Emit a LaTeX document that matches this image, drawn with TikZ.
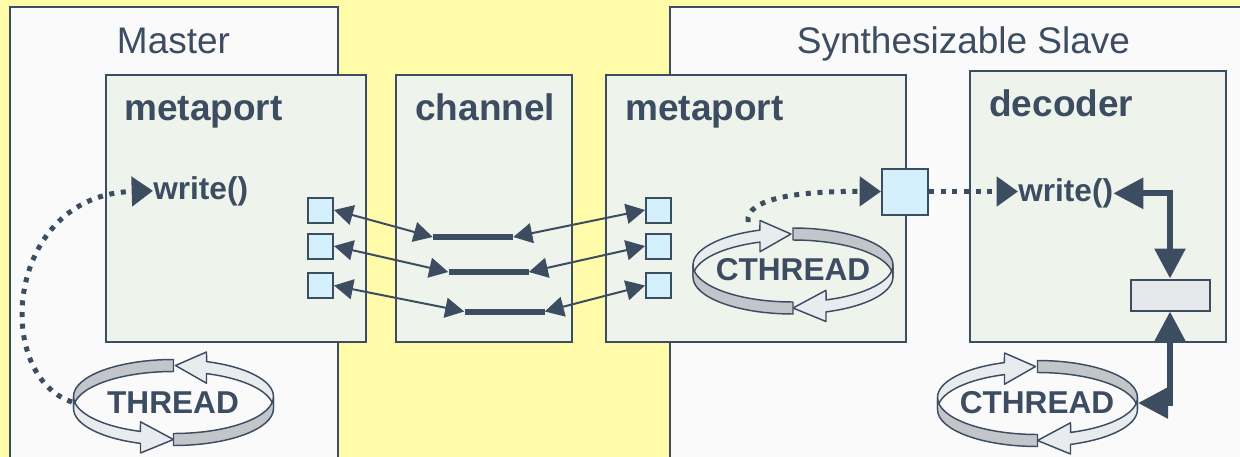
\documentclass[tikz,border=0pt]{standalone}
\usepackage{fontspec}
\setmainfont{Liberation Sans}
\usetikzlibrary{arrows.meta,fit}

\definecolor{ink}{HTML}{3D4D61}
\definecolor{paper}{HTML}{FFFBA8}
\definecolor{hostbg}{HTML}{FAFAFA}
\definecolor{modbg}{HTML}{EEF3EC}
\definecolor{portblue}{HTML}{D4F0FC}
\definecolor{regbg}{HTML}{E5E9EC}
\definecolor{ringgray}{HTML}{C2C6CA}
\definecolor{ringlight}{HTML}{E8ECEF}

\newcommand{\bigtext}{\fontsize{27.75pt}{32pt}\selectfont}
\newcommand{\midtext}{\fontsize{23.7pt}{28pt}\selectfont}

\tikzset{
  hostbox/.style={draw=ink, line width=1.5pt, fill=hostbg, inner sep=0pt},
  modbox/.style={draw=ink, line width=1.5pt, fill=modbg, inner sep=0pt},
  hosttitle/.style={text=ink, inner sep=0pt, font=\bigtext, anchor=base},
  modtitle/.style={text=ink, inner sep=0pt, font=\bigtext\bfseries, anchor=base west},
  calltext/.style={text=ink, inner sep=0pt, font=\midtext\bfseries},
  port/.style={draw=ink, line width=1.5pt, fill=portblue, minimum size=18.75pt, inner sep=0pt},
  wire/.style={fill=ink, minimum width=60pt, minimum height=4.5pt, inner sep=0pt},
  regbox/.style={draw=ink, line width=1.5pt, fill=regbg, minimum width=59.25pt, minimum height=23.25pt, inner sep=0pt},
  link/.style={draw=ink, line width=1.5pt,
    {Triangle[length=14.25pt,width=15pt]}-{Triangle[length=14.25pt,width=15pt]}},
  calltrace/.style={draw=ink, line width=3.75pt, dash pattern=on 3.75pt off 5pt,
    -{Triangle[length=16pt,width=21.75pt]}},
  bus/.style={draw=ink, line width=4.5pt,
    {Triangle[length=22.5pt,width=22.5pt]}-{Triangle[length=22.5pt,width=22.5pt]}},
  bandback/.style={draw=ink, line width=1.1pt, fill=ringgray, line join=round},
  bandfront/.style={draw=ink, line width=1.1pt, fill=ringlight, line join=round},
  % a rotating ribbon: back half first, then the front half
  pics/ring/.style={code={
    \path[bandback] (-100,-6) arc[start angle=180,end angle=270,x radius=100,y radius=37]
       -- (0,-31) arc[start angle=270,end angle=180,x radius=100,y radius=37] -- cycle;
    \path[bandfront] (100,-6) arc[start angle=360,end angle=289.3,x radius=100,y radius=37]
       -- (33,-50.5) -- (2,-37) -- (33,-19.3) -- (33,-28.9)
       arc[start angle=289.3,end angle=360,x radius=100,y radius=37] -- cycle;
    \path[bandfront] (-100,-6) arc[start angle=180,end angle=109.3,x radius=100,y radius=37]
       -- (-33,19.3) -- (0,37) -- (-33,50.5) -- (-33,40.9)
       arc[start angle=109.3,end angle=180,x radius=100,y radius=37] -- cycle;
    \path[bandback] (0,31) arc[start angle=90,end angle=0,x radius=100,y radius=37]
       -- (100,6) arc[start angle=0,end angle=90,x radius=100,y radius=37] -- cycle;
  }}
}

\begin{document}
\begin{tikzpicture}[x=0.75pt,y=-0.75pt]
\path[use as bounding box] (0,0) rectangle (1240,457);
\clip (0,0) rectangle (1240,457);
\fill[paper] (0,0) rectangle (1240,457);

% hosts and modules
\node[hostbox, fit={(10,7) (338,475)}] (master) {};
\node[hostbox, fit={(670,7) (1255,475)}] (slave) {};
\node[modbox, fit={(106,75) (366,342)}] (mpM) {};
\node[modbox, fit={(396,75) (572,342)}] (chan) {};
\node[modbox, fit={(606,75) (906,342)}] (mpS) {};
\node[modbox, fit={(970,71) (1226,342)}] (dec) {};

% titles
\node[hosttitle] (tMaster) at (173.5,53) {Master};
\node[hosttitle] (tSlave) at (963.5,53) {Synthesizable Slave};
\node[modtitle] (tmpM) at (124,120) {metaport};
\node[modtitle] (tchan) at (415,120) {channel};
\node[modtitle] (tmpS) at (625,120) {metaport};
\node[modtitle] (tdec) at (989,116.5) {decoder};
\node[calltext, anchor=base west] (wrM) at (153,199) {write()};
\node[calltext, anchor=base west] (wrD) at (1018,201.5) {write()};

% ports and channel wires
\node[port] (pL1) at (320.5,210) {};
\node[port] (pL2) at (320.5,246) {};
\node[port] (pL3) at (320.5,285.5) {};
\node[port] (pR1) at (658.5,210) {};
\node[port] (pR2) at (658.5,246) {};
\node[port] (pR3) at (658.5,285.5) {};
\node[wire] (b1) at (473,237) {};
\node[wire] (b2) at (488.5,272) {};
\node[wire] (b3) at (504.5,311.5) {};

\draw[link] (pL1.east) -- (b1.west);
\draw[link] (b1.east) -- (pR1.west);
\draw[link] (pL2.east) -- (b2.west);
\draw[link] (b2.east) -- (pR2.west);
\draw[link] (pL3.east) -- (b3.west);
\draw[link] (b3.east) -- (pR3.west);

% slave port and decoder register
\node[port, minimum size=34.5pt] (pS) at (905,191.5) {};
\node[regbox] (reg) at (1170,295) {};

% threads
\pic at (173.5,402.5) {ring};
\pic[xscale=-1] at (793,271) {ring};
\pic[xscale=-1] at (1037.5,403.5) {ring};
\node[calltext, anchor=base] (thM) at (173,413) {THREAD};
\node[calltext, anchor=base] (thS) at (793,280) {CTHREAD};
\node[calltext, anchor=base] (thD) at (1037,413) {CTHREAD};
\coordinate (thMleft) at (72,402);
\coordinate (thStop) at (748,222);
\coordinate (thDright) at (1138,403);

% calls and data paths
\draw[calltrace] (thMleft) .. controls (-8,375) and (5,195) .. (wrM.west);
\draw[calltrace] (thStop) .. controls (745,198) and (800,191) .. (pS.west);
\draw[calltrace] (pS.east) -- (pS.east -| wrD.west);
\draw[bus] (reg.north) |- (wrD.east);
\draw[bus] (reg.south) |- (thDright);
\end{tikzpicture}
\end{document}
